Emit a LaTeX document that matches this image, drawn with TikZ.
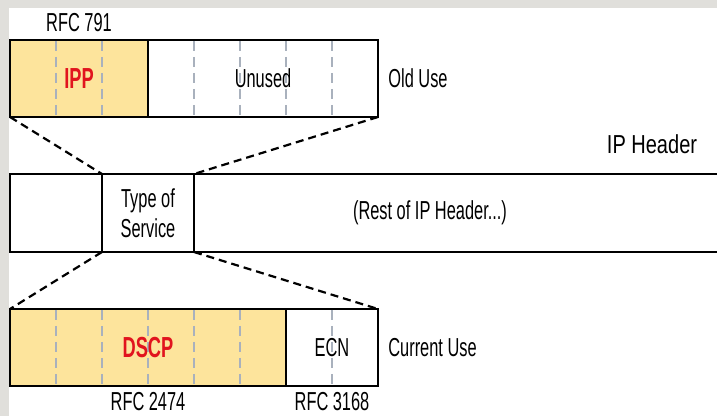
\documentclass[tikz,border=0pt]{standalone}
\usepackage{fontspec}
\setmainfont[FakeStretch=0.63]{Liberation Sans}
\newfontfamily\headerfont[FakeStretch=0.77]{Liberation Sans}
\usetikzlibrary{positioning}
\definecolor{framegray}{HTML}{E0DFDB}
\definecolor{fieldyellow}{HTML}{FDE49C}
\definecolor{labelred}{HTML}{E1141E}
\definecolor{bitgray}{HTML}{A9B1BD}

\begin{document}
\begin{tikzpicture}[x=0.5pt, y=-0.5pt, node distance=0pt, font=\fontsize{13}{15}\selectfont,
  field/.style={draw=black, line width=1pt, outer sep=0pt, inner sep=0pt, minimum height=38.5pt, anchor=north west},
  hdr/.style={draw=black, line width=1.3pt, outer sep=0pt, inner sep=0pt, minimum height=39pt, anchor=north west, align=center},
  bit/.style={draw=bitgray, line width=0.6pt, dash pattern=on 5pt off 3pt},
  zoomline/.style={line width=1.1pt, dash pattern=on 4pt off 2.5pt},
  lbl/.style={inner sep=0pt},
  tag/.style={inner sep=0pt, font=\fontsize{14.5}{14.5}\selectfont\bfseries, text=labelred}]
% page and grey frame
\useasboundingbox (0,0) rectangle (717,416);
\fill[framegray] (0,0) rectangle (9,416);
\fill[framegray] (0,0) rectangle (717,8.5);
% old use
\node[field, fill=fieldyellow, minimum width=69pt] (ipp) at (10,40) {};
\node[field, minimum width=115pt, right=of ipp] (unused) {};
\foreach \x in {56,102,194,240,286,332} \draw[bit] (\x,41) -- (\x,116);
\node[tag] (ipptext) at (ipp) {IPP};
\node[lbl] (unusedtext) at (unused) {Unused};
\node[lbl, above=4pt of ipp] (rfc791) {RFC 791};
\node[lbl, right=5pt of unused] (olduse) {Old Use};
% ip header row
\node[hdr, minimum width=46pt] (pre) at (10,174) {};
\node[hdr, minimum width=46pt, right=of pre] (tos) {Type of\\Service};
\node[hdr, minimum width=290pt, right=of tos] (rest) {};
\node[lbl] (resttext) at (430,213) {(Rest of IP Header...)};
\node[lbl, font=\headerfont\fontsize{13}{13}\selectfont] (ipheader) at (652,144) {IP Header};
% current use
\node[field, fill=fieldyellow, minimum width=138pt] (dscp) at (10,309) {};
\node[field, minimum width=46pt, right=of dscp] (ecn) {};
\foreach \x in {56,102,148,194,240,332} \draw[bit] (\x,310) -- (\x,386);
\node[tag] (dscptext) at (dscp) {DSCP};
\node[lbl] (ecntext) at (ecn) {ECN};
\node[lbl, right=5pt of ecn] (curuse) {Current Use};
\node[lbl, below=3pt of dscp] (rfc2474) {RFC 2474};
\node[lbl, below=3pt of ecn] (rfc3168) {RFC 3168};
% zoom lines
\draw[zoomline] (ipp.south west) -- (tos.north west);
\draw[zoomline] (unused.south east) -- (tos.north east);
\draw[zoomline] (tos.south west) -- (dscp.north west);
\draw[zoomline] (tos.south east) -- (ecn.north east);
\end{tikzpicture}
\end{document}
